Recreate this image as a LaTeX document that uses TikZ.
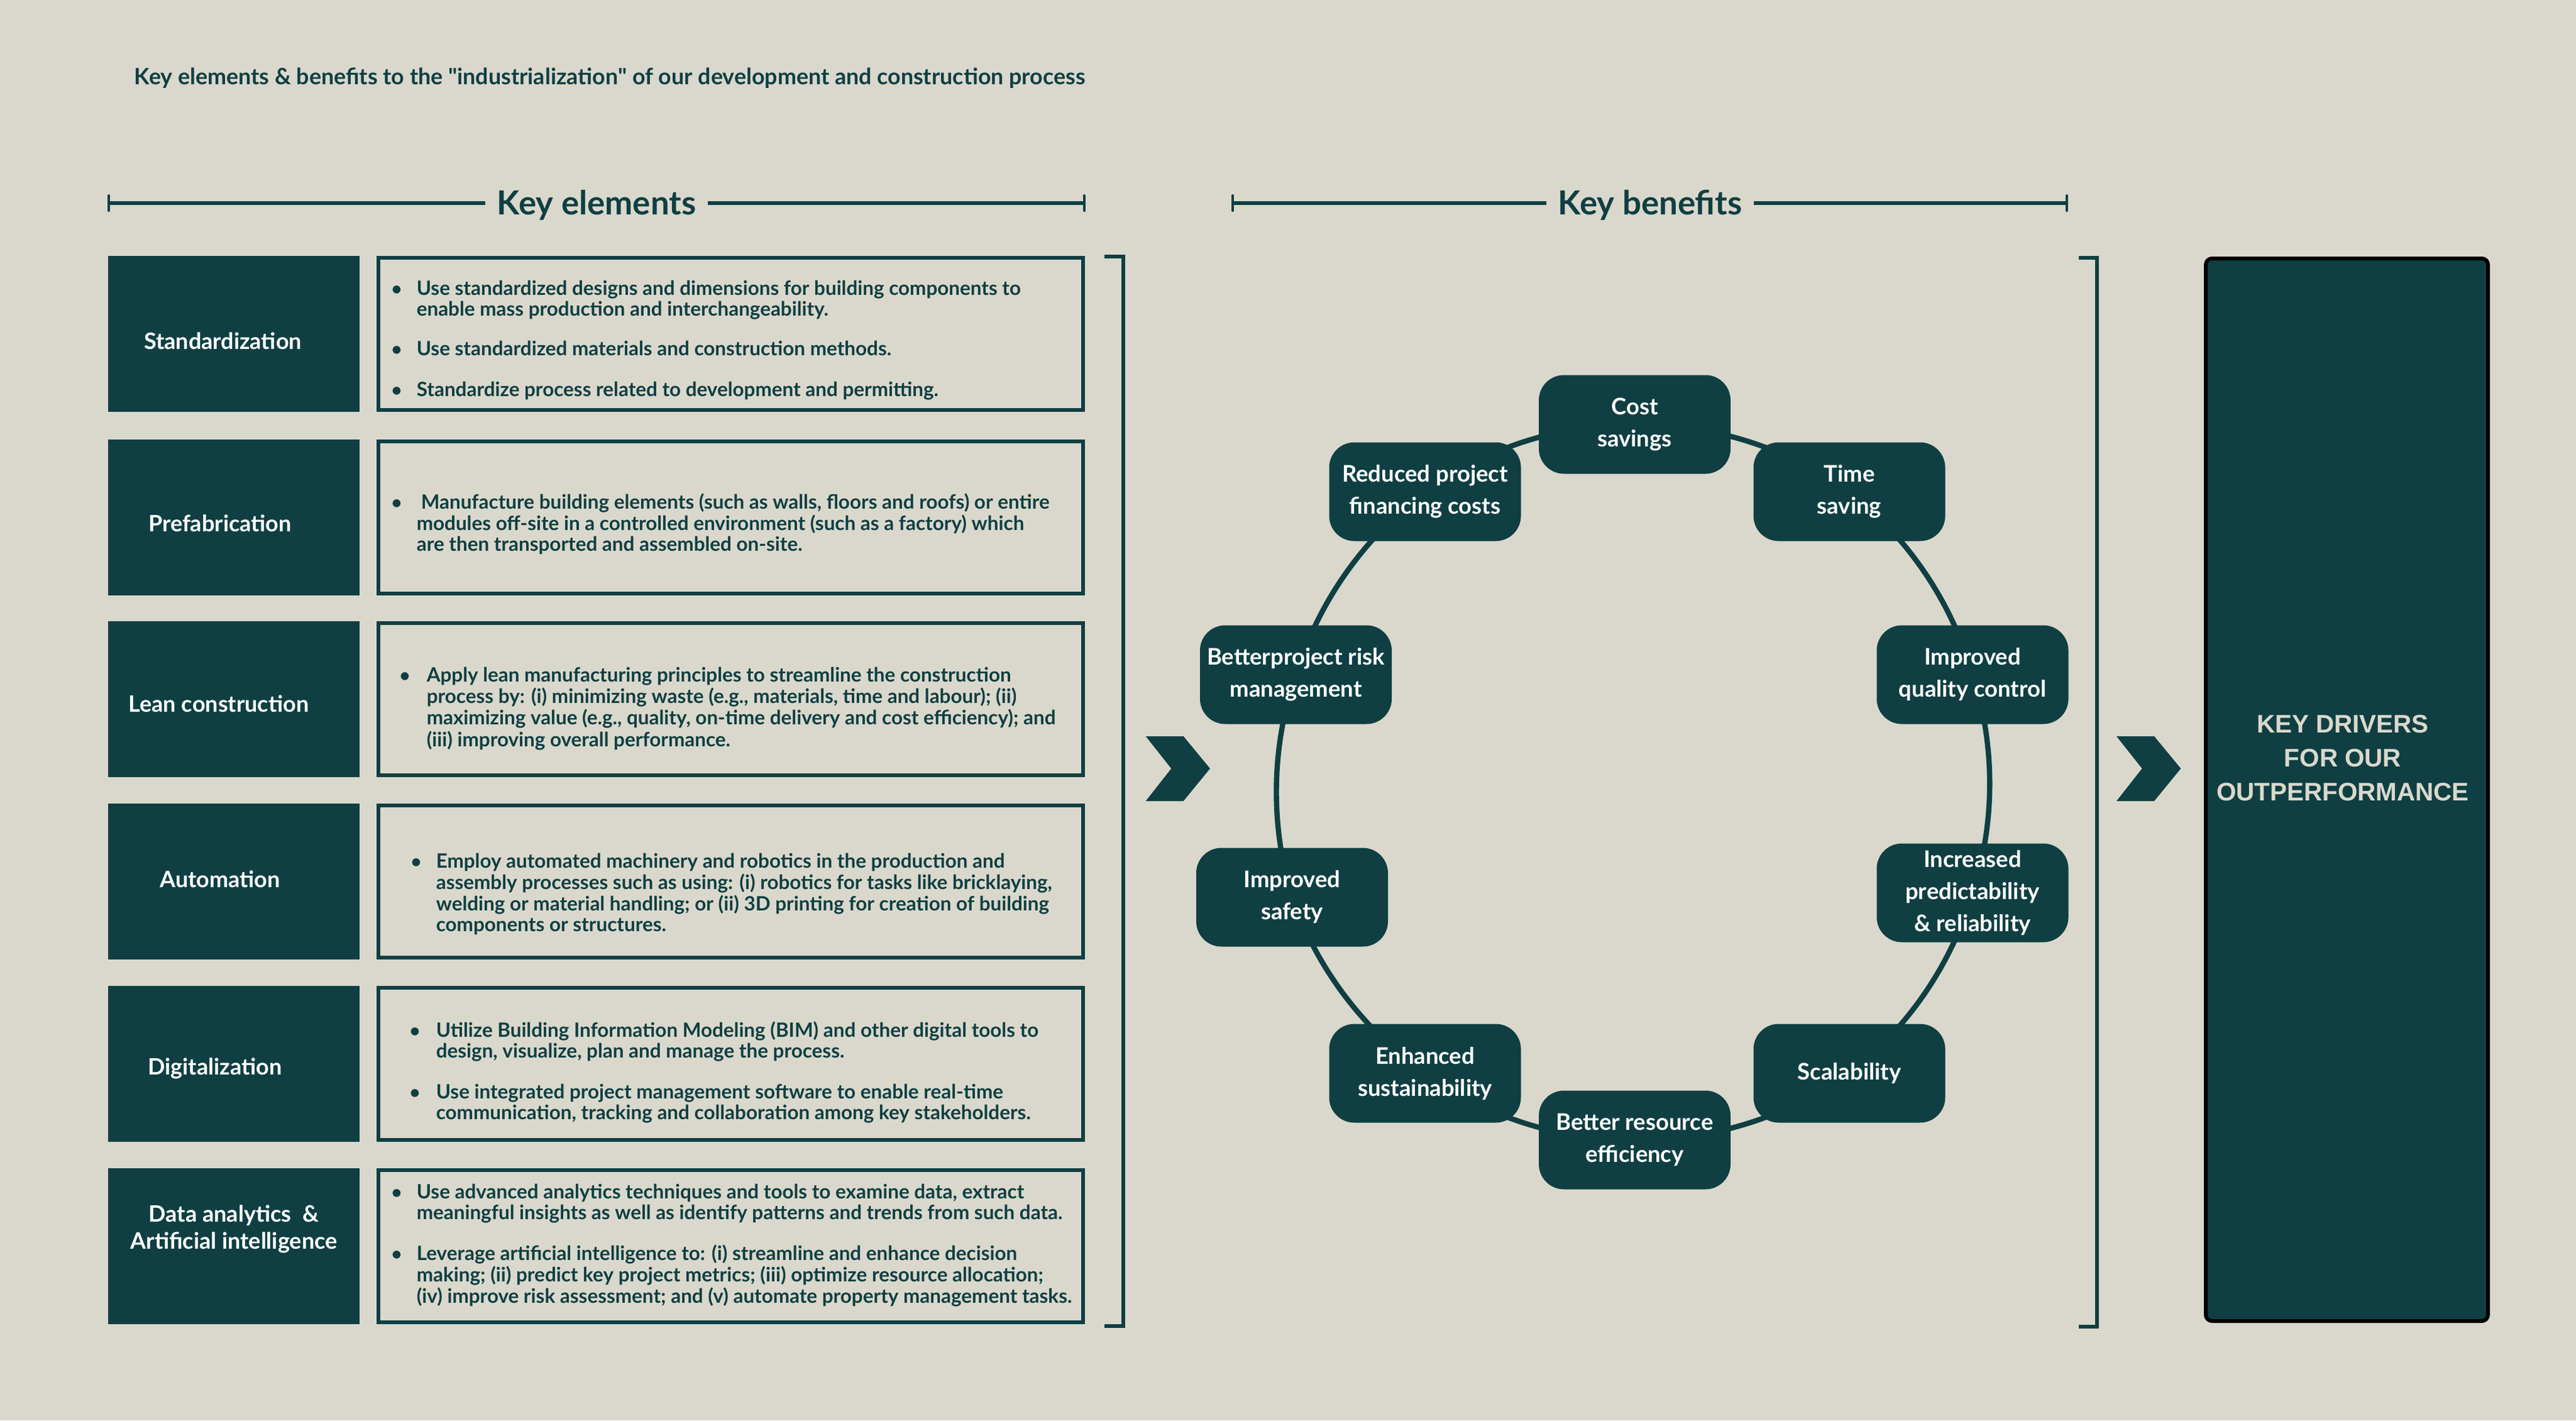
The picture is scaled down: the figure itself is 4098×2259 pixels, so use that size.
\documentclass[tikz,border=0pt]{standalone}
\usepackage{fontspec}
\setmainfont{Lato}
\newfontfamily\arialfont{Liberation Sans}
\usetikzlibrary{calc}
\definecolor{pagebg}{RGB}{218,216,204}
\definecolor{dteal}{RGB}{15,63,66}
\definecolor{beige}{RGB}{218,216,204}
\pgfdeclarelayer{bglayer}
\pgfsetlayers{bglayer,main}
\begin{document}
\begin{tikzpicture}[x=0.25pt,y=-0.25pt,
  lblbox/.style={fill=dteal,draw=none,minimum width=100pt,minimum height=62pt,inner sep=0pt},
  txtbox/.style={draw=dteal,line width=1.5pt,minimum width=280.25pt,minimum height=60.5pt,inner sep=0pt},
  lbltext/.style={anchor=base,inner sep=0pt,text=white,font=\bfseries\fontsize{9}{10.75}\selectfont},
  bodytext/.style={anchor=base west,inner sep=0pt,text=dteal,font=\bfseries\fontsize{7.85}{8.125}\selectfont},
  bul/.style={anchor=base,inner sep=0pt,text=dteal,font=\bfseries\fontsize{7.25}{8.125}\selectfont},
  benefit/.style={fill=dteal,rounded corners=10pt,minimum width=76.25pt,minimum height=39.25pt,inner sep=0pt,text=white,align=center,font=\bfseries\fontsize{9.1}{12.75}\selectfont},
  conn/.style={draw=dteal,line width=2.1pt},
  hdr/.style={inner xsep=4.5pt,inner ysep=0pt,text=dteal,font=\bfseries\fontsize{13.2}{15}\selectfont},
  hline/.style={draw=dteal,line width=1.6pt},
  htick/.style={draw=dteal,line width=1pt,line cap=round},
  bracket/.style={draw=dteal,line width=1.5pt},
  chev/.style={fill=dteal}
]
\begin{pgfonlayer}{bglayer}
\fill[pagebg] (0,0) rectangle (4098,2259);
\end{pgfonlayer}
\useasboundingbox (0,0) rectangle (4098,2259);

% title
\node[anchor=base west,inner sep=0pt,text=dteal,font=\bfseries\fontsize{8.95}{10}\selectfont] (title) at (213,134)
  {Key elements \& benefits to the \textquotedbl industrialization\textquotedbl\ of our development and construction process};

% headers
\node[hdr] (ke) at (949,326) {Key elements};
\coordinate (kel) at (173,323);
\coordinate (ker) at (1725,323);
\draw[hline] (kel) -- (kel -| ke.west);
\draw[hline] (ke.east |- ker) -- (ker);
\draw[htick] ($(kel)+(0,-12)$) -- ($(kel)+(0,12)$);
\draw[htick] ($(ker)+(0,-12)$) -- ($(ker)+(0,12)$);

\node[hdr] (kb) at (2625,326) {Key benefits};
\coordinate (kbl) at (1961,323);
\coordinate (kbr) at (3288,323);
\draw[hline] (kbl) -- (kbl -| kb.west);
\draw[hline] (kb.east |- kbr) -- (kbr);
\draw[htick] ($(kbl)+(0,-12)$) -- ($(kbl)+(0,12)$);
\draw[htick] ($(kbr)+(0,-12)$) -- ($(kbr)+(0,12)$);

% left rows
\node[lblbox] (b1) at (372,531) {};
\node[txtbox] (x1) at (1162.5,531) {};
\node[lbltext] (l1) at (354.5,555) {Standardization};
\node[bul] (u11) at (631,469) {\textbullet};
\node[bodytext] (s11) at (662,469) {\begin{tabular}[t]{@{}l@{}}Use standardized designs and dimensions for building components to\\enable mass production and interchangeability.\end{tabular}};
\node[bul] (u12) at (631,565) {\textbullet};
\node[bodytext] (s12) at (662,565) {Use standardized materials and construction methods.};
\node[bul] (u13) at (631,630) {\textbullet};
\node[bodytext] (s13) at (662,630) {Standardize process related to development and permitting.};

\node[lblbox] (b2) at (372,823) {};
\node[txtbox] (x2) at (1162.5,823) {};
\node[lbltext] (l2) at (350,845) {Prefabrication};
\node[bul] (u21) at (631,809) {\textbullet};
\node[bodytext] (s21) at (662,809) {\begin{tabular}[t]{@{}l@{}}\hspace{1.75pt}Manufacture building elements (such as walls, floors and roofs) or entire\\modules off-site in a controlled environment (such as a factory) which\\are then transported and assembled on-site.\end{tabular}};

\node[lblbox] (b3) at (372,1112) {};
\node[txtbox] (x3) at (1162.5,1112) {};
\node[lbltext] (l3) at (348,1132) {Lean construction};
\node[bul] (u31) at (644,1084) {\textbullet};
\node[bodytext] (s31) at (678,1084) {\begin{tabular}[t]{@{}l@{}}Apply lean manufacturing principles to streamline the construction\\process by: (i) minimizing waste (e.g., materials, time and labour); (ii)\\maximizing value (e.g., quality, on-time delivery and cost efficiency); and\\(iii) improving overall performance.\end{tabular}};

\node[lblbox] (b4) at (372,1402) {};
\node[txtbox] (x4) at (1162.5,1402) {};
\node[lbltext] (l4) at (350,1411) {Automation};
\node[bul] (u41) at (662,1380) {\textbullet};
\node[bodytext] (s41) at (693,1380) {\begin{tabular}[t]{@{}l@{}}Employ automated machinery and robotics in the production and\\assembly processes such as using: (i) robotics for tasks like bricklaying,\\welding or material handling; or (ii) 3D printing for creation of building\\components or structures.\end{tabular}};

\node[lblbox] (b5) at (372,1692) {};
\node[txtbox] (x5) at (1162.5,1692) {};
\node[lbltext] (l5) at (342,1709) {Digitalization};
\node[bul] (u51) at (660,1649) {\textbullet};
\node[bodytext] (s51) at (693,1649) {\begin{tabular}[t]{@{}l@{}}Utilize Building Information Modeling (BIM) and other digital tools to\\design, visualize, plan and manage the process.\end{tabular}};
\node[bul] (u52) at (660,1747) {\textbullet};
\node[bodytext] (s52) at (693,1747) {\begin{tabular}[t]{@{}l@{}}Use integrated project management software to enable real-time\\communication, tracking and collaboration among key stakeholders.\end{tabular}};

\node[lblbox] (b6) at (372,1982) {};
\node[txtbox] (x6) at (1162.5,1982) {};
\node[lbltext] (l6) at (372,1943) {\begin{tabular}[t]{@{}c@{}}Data analytics\ \ \&\\Artificial intelligence\end{tabular}};
\node[bul] (u61) at (631,1906) {\textbullet};
\node[bodytext] (s61) at (662,1906) {\begin{tabular}[t]{@{}l@{}}Use advanced analytics techniques and tools to examine data, extract\\meaningful insights as well as identify patterns and trends from such data.\end{tabular}};
\node[bul] (u62) at (631,2004) {\textbullet};
\node[bodytext] (s62) at (662,2004) {\begin{tabular}[t]{@{}l@{}}Leverage artificial intelligence to: (i) streamline and enhance decision\\making; (ii) predict key project metrics; (iii) optimize resource allocation;\\(iv) improve risk assessment; and (v) automate property management tasks.\end{tabular}};

% brackets
\draw[bracket] (1757,408) -- (1787,408) -- (1787,2109) -- (1757,2109);
\draw[bracket] (3307,410) -- (3336,410) -- (3336,2110) -- (3307,2110);

% chevrons
\fill[chev] (1822.7,1171) -- (1882.7,1171) -- (1925,1222.3) -- (1882.7,1274) -- (1822.7,1274) -- (1863.3,1222.3) -- cycle;
\fill[chev] (3367,1171) -- (3427,1171) -- (3469.3,1222.3) -- (3427,1274) -- (3367,1274) -- (3407.6,1222.3) -- cycle;

% benefits ring
\node[benefit] (cost) at (2600.5,675) {Cost\\savings};
\node[benefit] (time) at (2942,782) {Time\\saving};
\node[benefit] (qual) at (3138,1073) {Improved\\quality control};
\node[benefit] (pred) at (3138,1420) {Increased\\predictability\\\& reliability};
\node[benefit] (scal) at (2942,1707) {Scalability};
\node[benefit] (res) at (2600.5,1813) {Better resource\\efficiency};
\node[benefit] (sust) at (2267,1707) {Enhanced\\sustainability};
\node[benefit] (safe) at (2055.5,1427) {Improved\\safety};
\node[benefit] (risk) at (2061.5,1073) {Betterproject risk\\management};
\node[benefit] (fin) at (2267,782) {Reduced project\\financing costs};

\begin{pgfonlayer}{bglayer}
\foreach \a/\b in {cost/time,time/qual,qual/pred,pred/scal,scal/res,res/sust,sust/safe,safe/risk,risk/fin,fin/cost}
  \draw[conn] (\a.center) to[bend left=18,looseness=0.87] (\b.center);
\end{pgfonlayer}

% key drivers box
\node[draw=black,fill=dteal,line width=1.5pt,rounded corners=2.5pt,minimum width=112.25pt,minimum height=422.5pt,inner sep=0pt] (kd) at (3733.5,1256) {};
\node[text=beige,align=center,inner sep=0pt,font=\arialfont\bfseries\fontsize{10.1}{13.5}\selectfont] (kdt) at (3727,1206) {KEY DRIVERS\\FOR OUR\\OUTPERFORMANCE};
\end{tikzpicture}
\end{document}
